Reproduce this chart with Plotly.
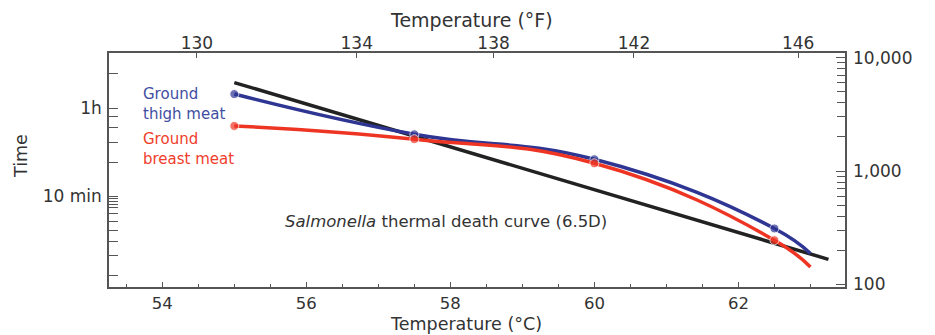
import plotly.graph_objects as go

# ---- data ----
temp_c = [55, 57.5, 60, 62.5, 63]              # °C
thigh_seconds = [4780, 2110, 1270, 311, 187]     # ground thigh meat
breast_seconds = [2500, 1910, 1170, 245, 142]    # ground breast meat
measured = [True, True, True, True, False]       # dot drawn at point

salmonella_temp_c = [55, 63.25]
salmonella_seconds = [6040, 166]

# axis ticks
c_ticks = [54, 56, 58, 60, 62]
f_tick_labels = ["130", "134", "138", "142", "146"]
f_tick_pos_c = [54.48, 56.70, 58.60, 60.55, 62.83]   # where the °F labels sit on the °C scale
sec_ticks = [100, 1000, 10000]
sec_tick_labels = ["100", "1,000", "10,000"]
time_ticks = [600, 3600]
time_tick_labels = ["10 min", "1h"]
time_minor = [120, 180, 240, 300, 360, 420, 480, 510, 540, 570, 1200, 1800, 2400, 3000, 7200]
sec_minor = [m * d for d in (100, 1000) for m in range(2, 10)]

# ---- style ----
FONT = "DejaVu Sans"
TXT = "#333333"
BLUE = "#2e3592"
RED = "#ee3524"
BLACK = "#222222"
AX = "#555555"

# the page body has an 8px margin, so the figure is drawn 8px in from the corner
OFF = 8
PAGE_W, PAGE_H = 935, 335
W, H = PAGE_W - OFF, PAGE_H - OFF
# plot frame in page pixels
FL, FR, FT, FB = 109, 845, 53, 287
L, R, T, B = FL - OFF, FR - OFF, FT - OFF, FB - OFF

def px(x):
    return (x - FL) / (FR - FL)

def py(y):
    return (FB - y) / (FB - FT)

fig = go.Figure()

fig.add_trace(go.Scatter(
    x=salmonella_temp_c, y=salmonella_seconds, mode="lines",
    line=dict(color=BLACK, width=3.5), showlegend=False))

for ys, col in ((thigh_seconds, BLUE), (breast_seconds, RED)):
    fig.add_trace(go.Scatter(
        x=temp_c, y=ys, mode="lines+markers",
        line=dict(color=col, width=3.5, shape="spline", smoothing=1.3),
        marker=dict(color=col, size=[9 if m else 0 for m in measured]),
        showlegend=False))

yrange = [1.976, 4.042]
xrange_ = [53.26, 63.48]

fig.update_layout(
    width=W, height=H,
    margin=dict(l=L, r=W - R, t=T, b=H - B, autoexpand=False),
    paper_bgcolor="white", plot_bgcolor="white",
    font=dict(family=FONT, color=TXT, size=17),
    xaxis=dict(
        range=xrange_, tickmode="array", tickvals=c_ticks, automargin=False,
        ticks="inside", ticklen=5, tickwidth=1.3, tickcolor=AX,
        minor=dict(dtick=0.5, tick0=0, ticks="inside", ticklen=3, tickcolor=AX),
        showline=True, linecolor=AX, linewidth=1.5, mirror=True,
        showgrid=False, zeroline=False, ticklabelstandoff=0,
        tickfont=dict(size=16.5, color=TXT)),
    xaxis2=dict(
        range=xrange_, overlaying="x", side="top", anchor="y", automargin=False,
        tickmode="array", tickvals=f_tick_pos_c, ticktext=f_tick_labels,
        ticks="inside", ticklen=5, tickwidth=1.3, tickcolor=AX,
        showline=False, showgrid=False, zeroline=False, ticklabelstandoff=0,
        tickfont=dict(size=17, color=TXT)),
    yaxis=dict(
        type="log", range=yrange, tickmode="array", automargin=False,
        tickvals=time_ticks, ticktext=time_tick_labels,
        ticks="inside", ticklen=9, tickwidth=1.3, tickcolor=AX,
        minor=dict(tickmode="array", tickvals=time_minor, ticks="inside",
                   ticklen=9, tickcolor=AX),
        showline=True, linecolor=AX, linewidth=1.5, mirror=True,
        showgrid=False, zeroline=False, ticklabelstandoff=2,
        tickfont=dict(size=17, color=TXT)),
    yaxis2=dict(
        type="log", range=yrange, overlaying="y", side="right", anchor="x",
        automargin=False,
        tickmode="array", tickvals=sec_ticks, ticktext=sec_tick_labels,
        ticks="inside", ticklen=9, tickwidth=1.3, tickcolor=AX,
        minor=dict(tickmode="array", tickvals=sec_minor, ticks="inside",
                   ticklen=8, tickcolor=AX),
        showline=False, showgrid=False, zeroline=False, ticklabelstandoff=7,
        tickfont=dict(size=17, color=TXT)),
)

# invisible trace so the top and right axes are drawn
fig.add_trace(go.Scatter(x=[xrange_[0]], y=[10 ** yrange[0]], xaxis="x2", yaxis="y2",
                         mode="markers", marker=dict(opacity=0), hoverinfo="skip",
                         showlegend=False))

ann = [
    dict(text="Ground<br>thigh meat", x=px(141), y=py(104), color="#3f4ea3", size=15, anchor="left"),
    dict(text="Ground<br>breast meat", x=px(141), y=py(149), color="#ef3e2c", size=15, anchor="left"),
    dict(text="<i>Salmonella</i> thermal death curve (6.5D)", x=px(283), y=py(221),
         color=TXT, size=16.5, anchor="left"),
    dict(text="Temperature (°F)", x=px(471), y=py(20), color=TXT, size=19, anchor="center"),
    dict(text="Temperature (°C)", x=px(466), y=py(323.5), color=TXT, size=17.5, anchor="center"),
]
for a in ann:
    fig.add_annotation(text=a["text"], xref="paper", yref="paper", x=a["x"], y=a["y"],
                       xanchor=a["anchor"], yanchor="middle", align="left", showarrow=False,
                       font=dict(family=FONT, size=a["size"], color=a["color"]))
fig.add_annotation(text="Time", xref="paper", yref="paper", x=px(21), y=py(156),
                   xanchor="center", yanchor="middle", textangle=-90, showarrow=False,
                   font=dict(family=FONT, size=17.5, color=TXT))

fig.write_html("out.html")
